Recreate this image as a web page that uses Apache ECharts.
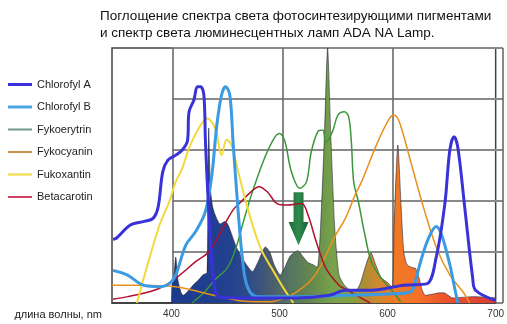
<!DOCTYPE html>
<html>
<head>
<meta charset="utf-8">
<script src="https://cdn.jsdelivr.net/npm/echarts@6/dist/echarts.min.js"></script>
<style>
html,body{margin:0;padding:0;background:#fff;}
#chart{width:507px;height:324px;}
</style>
</head>
<body>
<div id="chart"></div>
<script>
// ---------- DATA ----------
const titleText = 'Поглощение спектра света фотосинтезирующими пигментами\nи спектр света люминесцентных ламп ADA NA Lamp.';
const xAxisName = 'длина волны, nm';
const xTickLabels = [400, 500, 600, 700];
const seriesNames = ['Chlorofyl A', 'Chlorofyl B', 'Fykoerytrin', 'Fykocyanin', 'Fukoxantin', 'Betacarotin'];

const chlorofylA = [[346,25],[349,25.4],[362,30.6],[375,32],[383,33.2],[387.6,37.5],[392,51.5],[396.7,56],[404,58],[410,60],[414.8,63.5],[416.3,75],[420.8,79.6],[424,84.8],[427,84.8],[430,81.6],[431.5,63],[434,40],[437,18],[440,6],[443.4,2.5],[460,2],[500,2],[516,2],[546,3],[561,5],[585,5],[615,7],[636,7.5],[645,18],[653,39],[657.6,60],[661.5,65.2],[665,61],[671,39],[678.7,10],[681.4,5],[700,1]];

const chlorofylB = [[346,12.8],[359,11],[374,7],[389,6.4],[398,7.5],[404,11],[413.3,22.7],[422.4,28],[431.4,35.8],[437.4,50.2],[442,69.8],[446.4,81.6],[450,84.8],[454,81.6],[457,63.3],[461.5,37.2],[466,16.2],[470.6,6],[479.6,2.5],[520,2.5],[561,3],[600,3.5],[621.4,4.4],[626,9],[630.5,16.2],[638,25.5],[645,30],[650,26.7],[657.6,15],[662,6],[665,0]];

const fykoerytrin = [[419,0],[430,4],[440,9],[452,14],[460,22],[466,31],[474,42.4],[486,56.7],[495,64.6],[500,66.5],[505,63.3],[511,51.5],[519,45],[525,47.6],[529.4,59.3],[535.5,67.2],[540,67.8],[543,63],[549,67.2],[554,73.7],[560,75],[564,73],[566.5,63],[568.6,47.6],[573,39.7],[579,26.7],[585,16.2],[594,9.7],[605,4.4],[612,0.5]];

const fykocyanin = [[345,7],[370,7],[390,6.8],[404,6.4],[420,5],[434,3.5],[450,2],[465,0.8],[480,0.5],[492,0.5],[505,2],[516,4.4],[528,8.4],[537,13.7],[552,26.7],[561,33.2],[570,42.4],[576,47.6],[591,63.3],[601.8,72.4],[605.7,73.7],[610.9,71],[621.4,55.4],[633.5,37.1],[645.5,21.4],[657.6,11],[669.7,4.4],[676,0]];

const fukoxantin = [[368,0],[377,13.7],[389,30.6],[398,39.7],[404,47.6],[410,52.8],[416.3,60.7],[425.3,68.5],[433,72.4],[440.5,68.5],[446.4,58],[451,64],[455.5,62],[461.5,52],[470.6,37],[482.6,21.4],[494.7,12.3],[503.8,5.8],[512.8,0]];

const betacarotin = [[346,1.5],[360,2.5],[374,3.8],[389,5.8],[404,9.7],[422.4,16.2],[434.4,20],[446,28],[452,33],[458,37],[464.5,39.7],[473.6,43.6],[481,45.6],[488.7,43.6],[497.7,39],[506.8,38.4],[520.4,39],[526.4,34.5],[534,24],[543,13.6],[555,7],[561,5.5],[576,1.8],[584,0]];

const lampSpectrum = [[400,0],[400.5,7],[402,9],[404,18],[406,9],[409,4],[411,3],[415,4.5],[420,7],[425,9],[429,11],[433,12],[434.5,68.6],[436,45],[438,38],[440,35],[445,31],[449.5,32],[452.5,30.6],[460,22],[467.6,16.2],[475,12.3],[480,16],[487,22],[491,20],[495,15],[500.7,11],[505,14],[510,18.5],[517,20.5],[522,18],[526,16],[531,15],[535,14],[538,30],[541.5,65],[544.5,100],[547.5,65],[551,30],[555,11],[560,7],[566,5],[571,5],[575,8],[580,15],[584.6,19.7],[589,15],[594,10],[600,8],[604.5,6],[606,30],[609.5,62],[612.5,38],[615,20],[618,15],[622,14],[626,13.5],[629,10],[632,5],[635,3],[642,3.5],[648,4],[652,4],[656,3],[660,2],[680,2.5],[700,2]];

const arrowPoint = [517.6, 33];

// ---------- LAYOUT / STYLE ----------
const xMin = 345, xMax = 700;
const plotLeft = 112, plotRight = 503, plotTop = 48, plotBottom = 303;
const W = 507, H = 324;
const grid2Left = plotLeft + (400 - xMin) / (xMax - xMin) * (plotRight - plotLeft);
const FONT = 'Arial, "Liberation Sans", sans-serif';

const lampStops = [[400,'#1d3a8e'],[455,'#22418f'],[476,'#334f84'],[492,'#4b5c6e'],[510,'#557560'],[530,'#66884e'],[548,'#76a24a'],[568,'#86a040'],[580,'#b08c32'],[593,'#d48830'],[605,'#f07a24'],[630,'#f47028'],[655,'#ec502c'],[700,'#d83a34']];

const colors = {
  'Chlorofyl A': '#3a32d8',
  'Chlorofyl B': '#3a9ae2',
  'Fykoerytrin': '#3a963c',
  'Fykocyanin': '#e8901c',
  'Fukoxantin': '#f4d83a',
  'Betacarotin': '#b0102c'
};
const legendColors = {
  'Chlorofyl A': '#3a32d8',
  'Chlorofyl B': '#4aa6e0',
  'Fykoerytrin': '#6f9a86',
  'Fykocyanin': '#c8924a',
  'Fukoxantin': '#f2e060',
  'Betacarotin': '#d04062'
};
const widths = {'Chlorofyl A':3,'Chlorofyl B':3,'Fykoerytrin':1.5,'Fykocyanin':1.5,'Fukoxantin':2,'Betacarotin':1.5};
const legendWidths = {'Chlorofyl A':3,'Chlorofyl B':3,'Fykoerytrin':2,'Fykocyanin':2,'Fukoxantin':2.5,'Betacarotin':2};
const dataByName = {
  'Chlorofyl A': chlorofylA, 'Chlorofyl B': chlorofylB, 'Fykoerytrin': fykoerytrin,
  'Fykocyanin': fykocyanin, 'Fukoxantin': fukoxantin, 'Betacarotin': betacarotin
};
const drawOrder = ['Fykoerytrin','Fykocyanin','Betacarotin','Fukoxantin','Chlorofyl B','Chlorofyl A'];

const chart = echarts.init(document.getElementById('chart'), null, {renderer: 'canvas'});

const lineSeries = drawOrder.map((name, i) => ({
  name: name,
  type: 'line',
  xAxisIndex: 0, yAxisIndex: 0,
  data: dataByName[name],
  smooth: 0.35,
  symbol: 'none',
  z: 3 + i,
  lineStyle: {color: colors[name], width: widths[name]},
  itemStyle: {color: colors[name]},
  emphasis: {disabled: true}
}));

const lampSeries = {
  name: 'Lamp',
  type: 'line',
  xAxisIndex: 0, yAxisIndex: 0,
  data: lampSpectrum,
  smooth: 0.2,
  symbol: 'none',
  z: 2,
  lineStyle: {color: 'rgba(30,30,50,0.55)', width: 1},
  areaStyle: {
    opacity: 1,
    color: new echarts.graphic.LinearGradient(0, 0, 1, 0,
      lampStops.map(s => ({offset: (s[0] - 400) / 300, color: s[1]})))
  },
  markPoint: {
    symbol: 'path://M2.5,0 L7.5,0 L7.5,5.6 L10,5.6 L5,10 L0,5.6 L2.5,5.6 Z',
    symbolSize: [20, 53],
    symbolKeepAspect: false,
    label: {show: false},
    itemStyle: {
      color: new echarts.graphic.LinearGradient(0, 0, 1, 0, [
        {offset: 0, color: '#1f6a3a'}, {offset: 0.5, color: '#2f8a4c'}, {offset: 1, color: '#1c5e34'}
      ])
    },
    data: [{coord: arrowPoint}]
  },
  emphasis: {disabled: true}
};

const option = {
  backgroundColor: '#ffffff',
  animation: false,
  title: {
    text: titleText,
    left: 100, top: 8, padding: 0,
    textStyle: {fontFamily: FONT, fontSize: 13.5, fontWeight: 'normal', color: '#111', lineHeight: 17}
  },
  legend: {
    data: seriesNames.map(n => ({
      name: n,
      icon: 'path://M0,0 L24,0 L24,' + legendWidths[n] + ' L0,' + legendWidths[n] + ' Z',
      itemStyle: {color: legendColors[n]}
    })),
    orient: 'vertical',
    left: 8, top: 79, padding: 0,
    itemWidth: 24, itemHeight: 14, itemGap: 11.5,
    textStyle: {fontFamily: FONT, fontSize: 11, color: '#222'}
  },
  grid: [
    {left: plotLeft, right: W - plotRight, top: plotTop, bottom: H - plotBottom,
     show: true, borderColor: '#444', borderWidth: 1.5, backgroundColor: 'transparent'},
    {left: grid2Left, right: W - plotRight, top: plotTop, bottom: H - plotBottom}
  ],
  xAxis: [
    {
      type: 'value', gridIndex: 0, min: xMin, max: xMax,
      name: xAxisName, nameLocation: 'start', nameGap: 10,
      nameTextStyle: {fontFamily: FONT, fontSize: 11, color: '#222', verticalAlign: 'top', padding: [6, 0, 0, 0]},
      axisLine: {show: true, lineStyle: {color: '#333', width: 1.5}},
      axisTick: {show: false},
      splitLine: {show: false},
      axisLabel: {customValues: xTickLabels, fontFamily: FONT, fontSize: 10, color: '#333', margin: 6,
                  formatter: v => String(v)}
    },
    {
      type: 'value', gridIndex: 1, min: 400, max: 700, interval: 100,
      axisLine: {show: false}, axisTick: {show: false}, axisLabel: {show: false},
      splitLine: {show: true, lineStyle: {color: '#6a6a6a', width: 1.6}}
    }
  ],
  yAxis: [
    {type: 'value', gridIndex: 0, min: 0, max: 100, show: false, splitLine: {show: false}},
    {type: 'value', gridIndex: 1, min: 0, max: 100, interval: 20,
     axisLine: {show: false}, axisTick: {show: false}, axisLabel: {show: false},
     splitLine: {show: true, lineStyle: {color: '#8a8a8a', width: 2}}}
  ],
  series: [lampSeries].concat(lineSeries)
};

chart.setOption(option);
</script>
</body>
</html>
